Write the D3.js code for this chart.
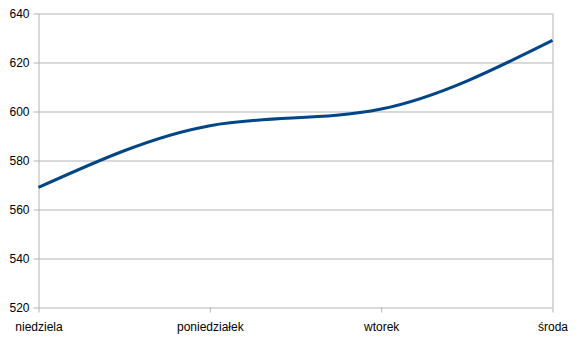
<!DOCTYPE html>
<html>
<head>
<meta charset="utf-8">
<script src="https://cdn.jsdelivr.net/npm/d3@7"></script>
<style>
  body { margin: 0; background: #fff; }
  text { font-family: "Liberation Sans", Arial, sans-serif; font-size: 12px; fill: #000; }
</style>
</head>
<body>
<div class="chart"></div>
<script>
const days = ['niedziela', 'poniedziałek', 'wtorek', 'środa'];
const values = [569, 594.2, 601, 629];
const yTicks = [520, 540, 560, 580, 600, 620, 640];

const width = 578;
const height = 337;
const plot = {left: 38.5, right: 552.5, top: 13.5, bottom: 307.5};

const x = d3.scalePoint()
  .domain(days)
  .range([plot.left, plot.right]);

const y = d3.scaleLinear()
  .domain([520, 640])
  .range([plot.bottom, plot.top]);

const line = d3.line()
  .curve(d3.curveNatural)
  .x((d, i) => x(days[i]))
  .y(d => y(d));

const svg = d3.select('.chart').append('svg')
  .attr('width', width)
  .attr('height', height);

// horizontal grid + left ticks
const yAxis = d3.axisLeft(y)
  .tickValues(yTicks)
  .tickSize(-(plot.right - plot.left))
  .tickPadding(9)
  .tickFormat(d3.format('d'));

const gY = svg.append('g')
  .attr('transform', `translate(${plot.left}, 0)`)
  .call(yAxis);
gY.select('.domain').remove();
gY.selectAll('.tick line').attr('stroke', '#b3b3b3');
gY.selectAll('.tick').append('line')
  .attr('x1', -5).attr('x2', 0)
  .attr('stroke', '#b3b3b3');
gY.selectAll('.tick text')
  .attr('font-size', 12)
  .attr('font-family', '"Liberation Sans", Arial, sans-serif')
  .attr('fill', '#000');

// vertical category lines
const xAxis = d3.axisBottom(x)
  .tickSize(-(plot.bottom - plot.top))
  .tickPadding(0);

const gX = svg.append('g')
  .attr('transform', `translate(0, ${plot.bottom})`)
  .call(xAxis);
gX.select('.domain').remove();
gX.selectAll('.tick line')
  .attr('stroke', '#b3b3b3')
  .attr('y2', 0)
  .attr('y1', d => (d === days[0] || d === days[days.length - 1]) ? -(plot.bottom - plot.top) : 0);
gX.selectAll('.tick').append('line')
  .attr('y1', 0).attr('y2', 5)
  .attr('stroke', '#b3b3b3');
gX.selectAll('.tick text')
  .attr('y', 23)
  .attr('dy', 0)
  .attr('font-size', 12)
  .attr('font-family', '"Liberation Sans", Arial, sans-serif')
  .attr('fill', '#000');

svg.append('path')
  .datum(values)
  .attr('d', line)
  .attr('fill', 'none')
  .attr('stroke', '#004586')
  .attr('stroke-width', 3);
</script>
</body>
</html>
